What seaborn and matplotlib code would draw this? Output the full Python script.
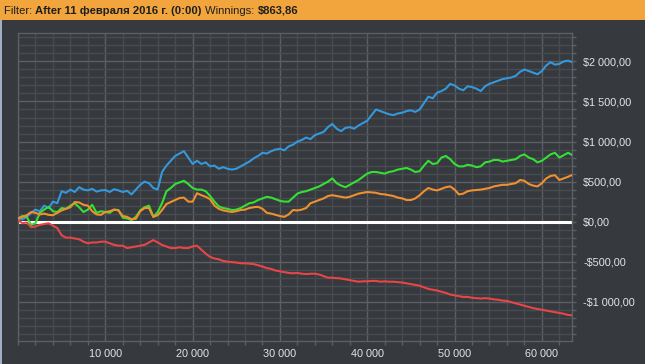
import numpy as np
import pandas as pd
import seaborn as sns
import matplotlib.pyplot as plt
from matplotlib.ticker import MultipleLocator, FixedLocator, FuncFormatter

# Data (one sample every 500 hands)
steps = list(range(0, 64000, 500))

blue = [40, 30, 60, 110, 150, 130, 200, 170, 250, 230,
        380, 360, 400, 370, 430, 400, 390, 410, 375, 390,
        395, 370, 405, 390, 370, 385, 340, 400, 460, 500,
        480, 420, 400, 620, 700, 760, 820, 850, 880, 800,
        720, 760, 720, 740, 690, 700, 660, 680, 660, 650,
        660, 690, 720, 750, 790, 820, 860, 850, 880, 900,
        910, 890, 940, 960, 1000, 1020, 1050, 1030, 1080, 1100,
        1120, 1180, 1220, 1160, 1130, 1170, 1180, 1160, 1200, 1230,
        1260, 1330, 1400, 1380, 1360, 1340, 1330, 1350, 1360, 1380,
        1390, 1370, 1400, 1480, 1560, 1540, 1610, 1630, 1660, 1720,
        1700, 1660, 1640, 1690, 1680, 1660, 1630, 1690, 1720, 1740,
        1760, 1780, 1790, 1800, 1820, 1870, 1900, 1880, 1860, 1840,
        1880, 1950, 1990, 1960, 1970, 2000, 2010, 1990]

green = [40, 70, 60, -40, -20, 110, 150, 185, 130, 120,
         170, 160, 200, 230, 180, 120, 150, 210, 110, 130,
         120, 110, 150, 145, 50, 40, 20, 60, 140, 180,
         200, 60, 120, 230, 380, 420, 470, 490, 510, 470,
         420, 400, 400, 380, 320, 250, 190, 170, 160, 145,
         150, 170, 200, 230, 240, 270, 290, 310, 300, 280,
         260, 250, 250, 300, 350, 370, 380, 400, 420, 440,
         470, 500, 540, 480, 450, 430, 460, 490, 520, 560,
         600, 620, 620, 610, 600, 620, 630, 650, 660, 670,
         650, 620, 630, 700, 760, 720, 730, 800, 820, 780,
         720, 690, 690, 710, 700, 680, 690, 740, 750, 770,
         770, 750, 760, 770, 780, 820, 840, 800, 780, 740,
         760, 800, 840, 860, 800, 830, 860, 830]

orange = [40, 60, 80, 120, 110, 90, 100, 85, 80, 110,
          140, 160, 180, 245, 240, 210, 200, 130, 90, 85,
          120, 130, 150, 140, 70, 60, 30, 35, 130, 170,
          170, 60, 80, 145, 220, 245, 270, 295, 300, 250,
          250, 355, 330, 310, 280, 200, 160, 140, 130, 120,
          130, 145, 150, 170, 180, 185, 160, 110, 100, 85,
          70, 60, 90, 145, 140, 150, 170, 230, 250, 270,
          290, 320, 330, 320, 310, 300, 310, 330, 350, 360,
          370, 365, 360, 345, 340, 330, 320, 300, 290, 270,
          270, 290, 330, 380, 420, 400, 390, 410, 430, 440,
          400, 340, 350, 380, 390, 395, 400, 410, 420, 440,
          450, 460, 460, 470, 480, 520, 510, 470, 450, 440,
          480, 540, 570, 580, 520, 540, 560, 585]

red = [20, -20, -10, -70, -60, -40, -30, -20, -50, -80,
       -170, -200, -200, -210, -220, -250, -270, -260, -260, -250,
       -250, -270, -290, -300, -300, -330, -320, -310, -300, -290,
       -260, -230, -260, -290, -310, -330, -330, -320, -330, -330,
       -310, -300, -350, -400, -440, -460, -470, -490, -500, -505,
       -510, -520, -520, -525, -530, -545, -560, -580, -590, -610,
       -620, -630, -640, -645, -640, -650, -655, -650, -650, -660,
       -680, -700, -700, -705, -710, -720, -730, -740, -750, -745,
       -745, -740, -740, -750, -745, -750, -750, -755, -760, -770,
       -780, -790, -800, -820, -840, -850, -860, -875, -890, -910,
       -920, -930, -940, -940, -950, -955, -960, -955, -960, -970,
       -975, -985, -990, -1005, -1020, -1035, -1050, -1065, -1080, -1090,
       -1100, -1110, -1120, -1130, -1140, -1150, -1165, -1170]

header = [("Filter: ", "normal"), ("After 11 февраля 2016 г. (0:00) ", "bold"),
          ("Winnings: ", "normal"), ("$863,86", "bold")]

series = {"blue": blue, "green": green, "orange": orange, "red": red}
palette = {"blue": "#3598dc", "green": "#35e035", "orange": "#f0902e", "red": "#e84646"}

df = pd.concat([pd.DataFrame({"step": steps, "value": v, "series": k})
                for k, v in series.items()], ignore_index=True)

BG = "#36393d"
sns.set_theme(style="dark", rc={"axes.facecolor": BG, "figure.facecolor": BG,
                                "axes.edgecolor": "#5c5f63", "axes.linewidth": 1.0})
plt.rcParams["font.family"] = ["Liberation Sans", "DejaVu Sans"]

fig = plt.figure(figsize=(6.45, 3.64), dpi=100)

# header bar
hdr = fig.add_axes([0, 1 - 20 / 364, 1, 20 / 364])
hdr.set_facecolor("#f2a53c")
hdr.set_xticks([])
hdr.set_yticks([])
for s in hdr.spines.values():
    s.set_visible(False)

# header texts laid out one after another
renderer = fig.canvas.get_renderer()
xpos = 4.0
for txt, weight in header:
    t = fig.text(xpos / 645, 1 - 10.5 / 364, txt, fontsize=8.1, color="#1e1e1e",
                 va="center", fontweight=weight)
    xpos += t.get_window_extent(renderer).width

# left window edge
edge = fig.add_axes([0, 0, 2 / 645, 1 - 20 / 364])
edge.set_facecolor("#9fb0c4")
edge.set_xticks([])
edge.set_yticks([])
for s in edge.spines.values():
    s.set_visible(False)

ax = fig.add_axes([18 / 645, 23 / 364, 554 / 645, 308 / 364])
ax.axhline(0, color="white", lw=2.2, zorder=2)
sns.lineplot(data=df, x="step", y="value", hue="series", palette=palette,
             lw=1.5, legend=False, ax=ax, estimator=None, sort=False, zorder=3)

ax.set_xlim(0, 63450)
ax.set_ylim(-1490, 2355)
ax.set_xlabel("")
ax.set_ylabel("")

ax.xaxis.set_major_locator(FixedLocator([10000, 20000, 30000, 40000, 50000, 60000]))
ax.xaxis.set_minor_locator(MultipleLocator(2000))
ax.yaxis.set_major_locator(MultipleLocator(500))
ax.yaxis.set_minor_locator(MultipleLocator(100))


def fmt_x(v, pos):
    return f"{int(v):,}".replace(",", " ")


def fmt_y(v, pos):
    s = f"{abs(v):,.2f}".replace(",", " ").replace(".", ",")
    return ("-" if v < 0 else "") + "$" + s


ax.xaxis.set_major_formatter(FuncFormatter(fmt_x))
ax.yaxis.set_major_formatter(FuncFormatter(fmt_y))
ax.yaxis.tick_right()

ax.grid(which="major", color="#5c5f63", lw=1.0)
ax.grid(which="minor", color="#484b4f", lw=1.0)
ax.set_axisbelow(True)

ax.tick_params(axis="x", which="major", length=0, pad=6, labelsize=7.8, colors="#e4e4e4")
ax.tick_params(axis="x", which="minor", length=3, width=1, color="#5c5f63", bottom=True)
ax.tick_params(axis="y", which="major", length=3, width=1, color="#5c5f63", pad=5,
               labelsize=7.8, labelcolor="#e4e4e4", right=True, left=False)
ax.tick_params(axis="y", which="minor", length=3, width=1, color="#5c5f63",
               right=True, left=False)

fig.savefig("out.png", dpi=100, facecolor=BG)
